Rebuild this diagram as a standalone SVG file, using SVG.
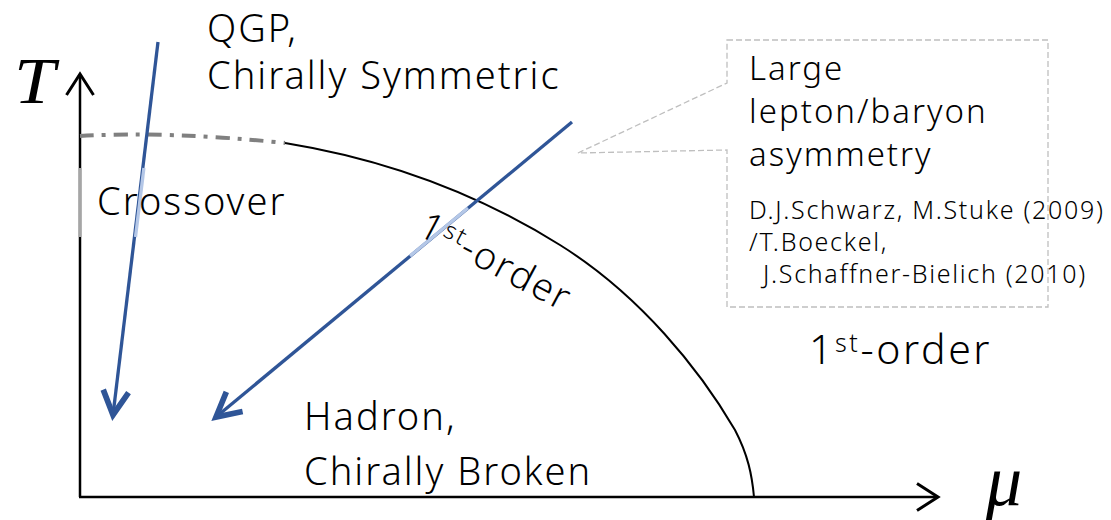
<svg xmlns="http://www.w3.org/2000/svg" width="1111" height="520" viewBox="0 0 1111 520">
<style>
.lbl{font-family:"Noto Sans","Open Sans",sans-serif;font-weight:300;font-size:38px;letter-spacing:2px;fill:#000}
.big{font-size:41px;letter-spacing:2.6px}
.box{font-family:"Noto Sans","Open Sans",sans-serif;font-weight:300;font-size:33px;letter-spacing:2px;fill:#000}
.cit{font-family:"Noto Sans","Open Sans",sans-serif;font-weight:300;font-size:25px;letter-spacing:1.7px;fill:#000}
.math{font-family:"Liberation Serif","DejaVu Serif",serif;font-style:italic;fill:#000}
.axis{stroke:#000;stroke-width:2.5;fill:none}
.blue{stroke:#2F5597;stroke-width:3.3;fill:none}
.light{stroke:#B4C7E7;stroke-width:3.3;fill:none}
</style>
<defs>
<marker id="ah" markerUnits="userSpaceOnUse" markerWidth="30" markerHeight="30" refX="0" refY="0" viewBox="-16 -10 18 20" orient="auto" overflow="visible">
<path d="M-14,-9 L0,0 L-14,9" fill="none" stroke="#000" stroke-width="2"/>
</marker>
<marker id="bh" markerUnits="userSpaceOnUse" markerWidth="30" markerHeight="30" refX="0" refY="0" viewBox="-18 -10 20 20" orient="auto" overflow="visible">
<path d="M-16,-8.5 L0,0 L-16,8.5" fill="none" stroke="#2F5597" stroke-width="3.8" stroke-linejoin="miter"/>
</marker>
</defs>
<g id="axes">
<line x1="80" y1="497" x2="80" y2="74" class="axis" marker-end="url(#ah)"/>
<line x1="79" y1="497" x2="938" y2="497" class="axis" marker-end="url(#ah)"/>
<line x1="80" y1="168" x2="80" y2="237" stroke="#A6A6A6" stroke-width="3"/>
<text x="14" y="103" class="math" font-size="66" transform="translate(14,103) scale(1.12,1) translate(-14,-103)">T</text>
<text x="986" y="505" class="math" font-size="72">μ</text>
</g>
<g id="boundary">
<path d="M80,136 Q170,131 285,143" fill="none" stroke="#808080" stroke-width="4" stroke-dasharray="14 8 4 8"/>
<path d="M285,143 C390,160 480,195 560,245 C640,295 700,370 735,430 C748,455 752,475 754,497" fill="none" stroke="#000" stroke-width="2"/>
</g>
<g id="connectors">
<line x1="158" y1="42" x2="113" y2="415" class="blue" marker-end="url(#bh)"/>
<line x1="143.9" y1="168" x2="135.5" y2="237" class="light"/>
<line x1="572" y1="122" x2="216" y2="417" class="blue" marker-end="url(#bh)"/>
<line x1="468" y1="208" x2="410" y2="256" class="light"/>
</g>
<g id="qgp">
<text x="207" y="42" class="lbl">QGP,</text>
<text x="207" y="89" class="lbl">Chirally Symmetric</text>
</g>
<g id="crossover">
<text x="97" y="215" class="lbl">Crossover</text>
</g>
<g id="first-order-line">
<text class="lbl" transform="translate(416,234) rotate(28)">1<tspan font-size="24" dy="-11">st</tspan><tspan dy="11">-order</tspan></text>
</g>
<g id="hadron">
<text x="304" y="430" class="lbl">Hadron,</text>
<text x="304" y="485" class="lbl">Chirally Broken</text>
</g>
<g id="first-order-right">
<text x="809" y="364" class="lbl big">1<tspan font-size="25" dy="-12">st</tspan><tspan dy="12">-order</tspan></text>
</g>
<g id="callout">
<path d="M727,40 H1048 V307 H727 V150 L578,153 L727,83 Z" fill="none" stroke="#BFBFBF" stroke-width="1.3" stroke-dasharray="6 3"/>
<text x="749" y="80" class="box">Large</text>
<text x="749" y="123" class="box">lepton/baryon</text>
<text x="749" y="166" class="box">asymmetry</text>
<text x="749" y="219" class="cit">D.J.Schwarz, M.Stuke (2009)</text>
<text x="749" y="251" class="cit">/T.Boeckel,</text>
<text x="763" y="283" class="cit">J.Schaffner-Bielich (2010)</text>
</g>
</svg>
